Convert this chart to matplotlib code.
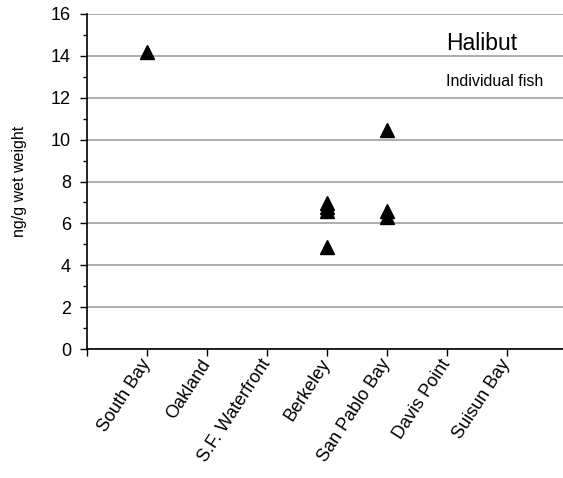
import matplotlib
matplotlib.use("Agg")
import matplotlib.pyplot as plt
import numpy as np

plt.rcParams['font.family'] = ['Liberation Sans', 'DejaVu Sans']

# Sampling stations along the bay
stations = ["South Bay", "Oakland", "S.F. Waterfront", "Berkeley",
            "San Pablo Bay", "Davis Point", "Suisun Bay"]

# Individual halibut concentrations (ng/g wet weight) per station
south_bay = [14.2]
oakland = []
sf_waterfront = []
berkeley = [6.97, 6.78, 6.59, 4.85]
san_pablo_bay = [10.45, 6.59, 6.30]
davis_point = []
suisun_bay = []

values = [south_bay, oakland, sf_waterfront, berkeley,
          san_pablo_bay, davis_point, suisun_bay]

W, H = 563, 478
fig = plt.figure(figsize=(W / 100, H / 100), dpi=100)
ax = fig.add_axes([87 / W, 129 / H, 1 - 87 / W, 335 / H])

for i, vals in enumerate(values, start=1):
    if vals:
        ax.plot([i] * len(vals), vals, linestyle='none', marker='^',
                markersize=9.5, color='black', zorder=3, clip_on=False)

ax.set_xlim(0, (W - 87) / 60)
ax.set_ylim(0, 16)

ax.set_yticks(np.arange(0, 17, 2))
ax.set_yticks(np.arange(1, 16, 2), minor=True)
ax.yaxis.grid(True, which='major', color='#a0a0a0', linewidth=1.2)
ax.set_axisbelow(True)

ax.set_xticks(range(1, len(stations) + 1))
ax.set_xticks([0], minor=True)
ax.set_xticklabels(stations, rotation=57, ha='right', va='center',
                   rotation_mode='anchor', fontsize=13)

ax.tick_params(axis='y', which='major', direction='out', length=5,
               width=1, labelsize=13, pad=6.5)
ax.tick_params(axis='y', which='minor', direction='out', length=3, width=1)
ax.tick_params(axis='x', which='both', direction='out', length=5,
               width=1, pad=3.5)

for side in ('top', 'right'):
    ax.spines[side].set_visible(False)
for side in ('left', 'bottom'):
    ax.spines[side].set_linewidth(1.2)

ax.set_ylabel("ng/g wet weight", fontsize=11.5, labelpad=17)

# annotation text, placed in pixel coordinates measured from the top edge
fig.text(446 / W, 1 - 44 / H, "Halibut", fontsize=16.5,
         ha='left', va='center')
fig.text(446 / W, 1 - 82 / H, "Individual fish", fontsize=11.5,
         ha='left', va='center')

fig.savefig("out.png", dpi=100)
